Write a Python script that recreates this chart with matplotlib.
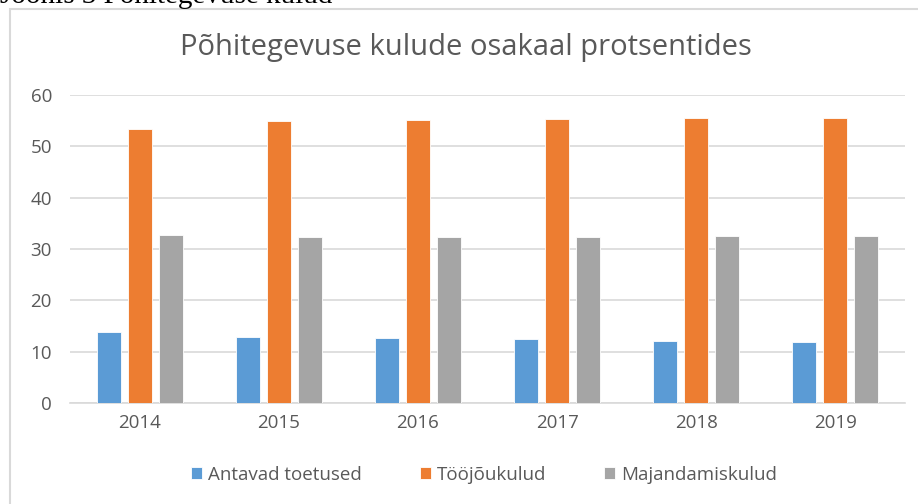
import matplotlib
matplotlib.use("Agg")
import matplotlib.pyplot as plt
import numpy as np
from matplotlib.patches import Rectangle

years = ["2014", "2015", "2016", "2017", "2018", "2019"]
series_names = ["Antavad toetused", "Tööjõukulud", "Majandamiskulud"]
antavad = [13.8, 12.9, 12.7, 12.5, 12.1, 11.9]
toojou = [53.4, 54.9, 55.1, 55.3, 55.5, 55.5]
majandamis = [32.7, 32.3, 32.3, 32.3, 32.5, 32.5]
colors = ["#5B9BD5", "#ED7D31", "#A5A5A5"]

plt.rcParams['font.family'] = ['Open Sans', 'DejaVu Sans']
W, H = 918, 504
fig = plt.figure(figsize=(W/100, H/100), dpi=100)
fig.patch.set_facecolor("white")

# chart frame
fig.patches.append(Rectangle((10/W, -0.1), 1.0, (H-9)/H + 0.1, transform=fig.transFigure,
                             fill=False, edgecolor="#D9D9D9", linewidth=1.5))
# cropped caption above the chart (only its lower part is visible)
fig.text(0/W, 1 - 3/H, "Joonis 3 Põhitegevuse kulud", family="Liberation Serif",
         fontsize=21, ha="left", va="baseline", color="black")

ax = fig.add_axes([70/W, (H-403)/H, (905-70)/W, (403-95)/H])
x = np.arange(len(years))
w = 0.173
off = 0.223
for i, (vals, name) in enumerate(zip([antavad, toojou, majandamis], series_names)):
    ax.bar(x + (i-1)*off, vals, width=w, color=colors[i], label=name, zorder=3,
           edgecolor="white", linewidth=0.6)

ax.set_xlim(-0.5, len(years)-0.5)
ax.set_ylim(0, 60)
ax.set_yticks(range(0, 61, 10))
ax.set_xticks(x)
ax.set_xticklabels(years)
ax.grid(axis="y", color="#D9D9D9", linewidth=1.2, zorder=0)
for s in ["top", "right", "left"]:
    ax.spines[s].set_visible(False)
ax.spines["bottom"].set_color("#D9D9D9")
ax.spines["bottom"].set_linewidth(1.2)
ax.tick_params(axis="both", length=0, labelsize=13.5, colors="#595959", labelcolor="#595959")
ax.tick_params(axis="y", pad=13)
ax.tick_params(axis="x", pad=8)

fig.text(466/W, 1 - 47/H, "Põhitegevuse kulude osakaal protsentides", ha="center", va="center",
         fontsize=21, color="#595959")

fig.legend(loc="center", bbox_to_anchor=(484/W, 1 - 475/H), ncol=3, frameon=False,
           fontsize=13.5, handlelength=0.6, handleheight=0.6, handletextpad=0.3,
           columnspacing=3.1, labelcolor="#595959")

fig.savefig("out.png", dpi=100, facecolor="white")
